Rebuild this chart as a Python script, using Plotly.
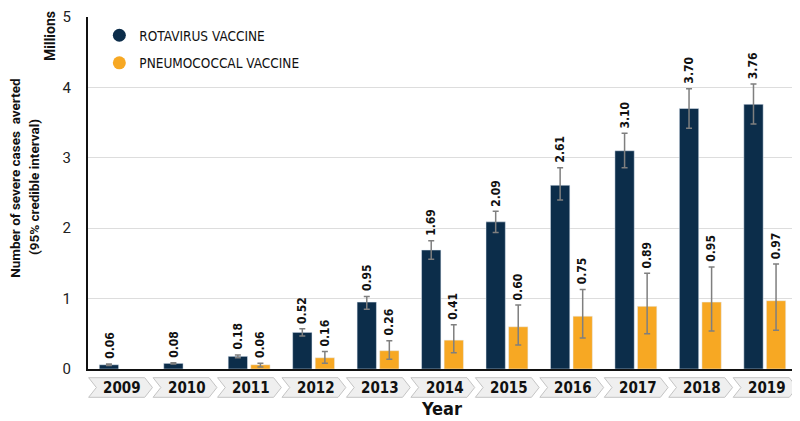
import plotly.graph_objects as go

years = ["2009", "2010", "2011", "2012", "2013", "2014", "2015", "2016", "2017", "2018", "2019"]
rota = [0.06, 0.08, 0.18, 0.52, 0.95, 1.69, 2.09, 2.61, 3.10, 3.70, 3.76]
rota_lo = [0.05, 0.07, 0.16, 0.47, 0.85, 1.56, 1.94, 2.40, 2.86, 3.42, 3.48]
rota_hi = [0.07, 0.09, 0.20, 0.57, 1.03, 1.82, 2.24, 2.86, 3.35, 3.98, 4.05]
pneu = [None, None, 0.06, 0.16, 0.26, 0.41, 0.60, 0.75, 0.89, 0.95, 0.97]
pneu_lo = [None, None, 0.03, 0.08, 0.14, 0.23, 0.34, 0.44, 0.50, 0.54, 0.55]
pneu_hi = [None, None, 0.08, 0.25, 0.40, 0.63, 0.91, 1.13, 1.36, 1.45, 1.49]

NAVY = "#0c2d4a"
ORANGE = "#f7a823"
FONT = "DejaVu Sans Condensed, Roboto, sans-serif"
TFONT = "Roboto, sans-serif"

def err(v, lo, hi):
    plus = [None if a is None else round(h - a, 3) for a, h in zip(v, hi)]
    minus = [None if a is None else round(a - l, 3) for a, l in zip(v, lo)]
    return dict(type="data", array=plus, arrayminus=minus, color="#7f7f7f",
                thickness=1.5, width=3)

fig = go.Figure()
fig.add_trace(go.Bar(x=years, y=rota, marker_color=NAVY, showlegend=False,
                     error_y=err(rota, rota_lo, rota_hi)))
fig.add_trace(go.Bar(x=years, y=pneu, marker_color=ORANGE, showlegend=False,
                     error_y=err(pneu, pneu_lo, pneu_hi)))

# legend entries with round symbols
fig.add_trace(go.Scatter(x=[None], y=[None], mode="markers", name="ROTAVIRUS VACCINE",
                         marker=dict(color=NAVY, size=13), legendgroup="a"))
fig.add_trace(go.Scatter(x=[None], y=[None], mode="markers", name="PNEUMOCOCCAL VACCINE",
                         marker=dict(color=ORANGE, size=13), legendgroup="b"))

# value labels above the error bars (category axes take the index here)
for vals, hi, shift in [(rota, rota_hi, -11), (pneu, pneu_hi, 11)]:
    for i, (v, h) in enumerate(zip(vals, hi)):
        if v is None:
            continue
        fig.add_annotation(x=i, y=h, text="<b>%.2f</b>" % v, textangle=-90, showarrow=False,
                           xshift=shift, yshift=3, xanchor="center", yanchor="bottom",
                           font=dict(family=FONT, size=12, color="#111111"))

# chevron year boxes along the bottom
for i, yr in enumerate(years):
    x0 = i - 0.49
    path = (f"M {x0},-0.0247 L {i + 0.38},-0.0247 L {i + 0.5},-0.0526 "
            f"L {i + 0.38},-0.0804 L {x0},-0.0804 L {x0 + 0.12},-0.0526 Z")
    fig.add_shape(type="path", path=path, xref="x", yref="paper",
                  fillcolor="#efefef", line=dict(color="#c4c4c4", width=1))
    fig.add_annotation(x=i, y=-0.0526, yref="paper", text="<b>%s</b>" % yr,
                       showarrow=False, xshift=2, xanchor="center", yanchor="middle",
                       font=dict(family=FONT, size=15, color="#111111"))

# y title, two lines placed separately for the wider line spacing
fig.add_annotation(x=-0.103, y=0.543, xref="paper", yref="paper", textangle=-90,
                   xanchor="center", yanchor="middle",
                   text="<b>Number of severe cases  averted</b>",
                   showarrow=False, font=dict(family=TFONT, size=13.5, color="#111111"))
fig.add_annotation(x=-0.0762, y=0.517, xref="paper", yref="paper", textangle=-90,
                   xanchor="center", yanchor="middle",
                   text="<b>(95% credible interval)</b>",
                   showarrow=False, font=dict(family=TFONT, size=13.5, color="#111111"))
fig.add_annotation(x=-0.0536, y=0.946, xref="paper", yref="paper", textangle=-90,
                   xanchor="center", yanchor="middle",
                   text="<b>Millions</b>", showarrow=False,
                   font=dict(family=TFONT, size=14, color="#111111"))
fig.add_annotation(x=0.499, y=-0.1108, xref="paper", yref="paper", text="<b>Year</b>",
                   xanchor="center", yanchor="middle",
                   showarrow=False, font=dict(family=FONT, size=18, color="#111111"))

fig.update_layout(
    width=792, height=413,
    margin=dict(l=80, r=3, t=9, b=52),
    plot_bgcolor="white", paper_bgcolor="white",
    barmode="group", bargap=0.3, bargroupgap=0.143,
    font=dict(family=FONT, color="#222222"),
    legend=dict(x=0.016, y=0.9915, xanchor="left", yanchor="top",
                font=dict(family=FONT, size=13.5, color="#111111"),
                tracegroupgap=7, bgcolor="rgba(0,0,0,0)"),
)
fig.update_xaxes(type="category", showticklabels=False, showline=True, automargin=False,
                 linecolor="#111111", linewidth=2, ticks="", range=[-0.5, 10.5])
fig.update_yaxes(range=[0, 5], dtick=1, showline=True, linecolor="#111111", linewidth=2,
                 gridcolor="#dddddd", gridwidth=1, zeroline=False, automargin=False,
                 ticks="", ticklabelstandoff=12, ticklabeloverflow="allow",
                 tickfont=dict(family=TFONT, size=15, color="#222222"))

fig.write_html("out.html")
